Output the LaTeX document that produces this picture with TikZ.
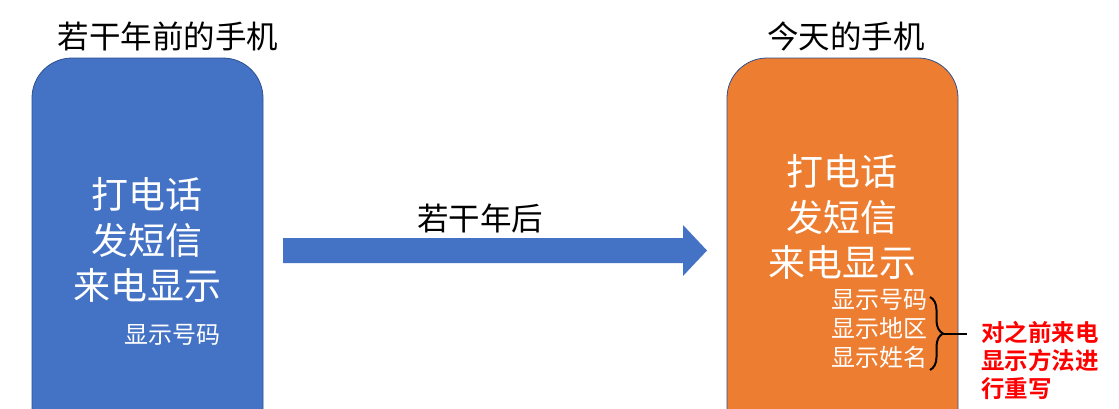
\documentclass[tikz,border=0pt]{standalone}
\usepackage{fontspec}
\newfontfamily\cjk{Noto Sans CJK SC}
\newfontfamily\cjkb{Noto Sans CJK SC Bold}
\usetikzlibrary{decorations.pathreplacing,calc}
\definecolor{pblue}{HTML}{4472C4}
\definecolor{porange}{HTML}{ED7D31}
\definecolor{pline}{HTML}{2F528F}
\definecolor{pred}{HTML}{FF0000}
\tikzset{
  phone/.style={line width=0.8pt, draw=pline, rounded corners=40pt},
  title/.style={inner sep=0pt, font=\cjk\fontsize{31.5}{31}\selectfont, text=black},
  bigtxt/.style={inner sep=0pt, align=center, text=white, font=\cjk\fontsize{37}{45.5}\selectfont},
  smalltxt/.style={inner sep=0pt, align=left, text=white, font=\cjk\fontsize{24}{29}\selectfont},
  redtxt/.style={inner sep=0pt, align=left, text=pred, font=\cjkb\fontsize{23.5}{28}\selectfont},
  bracestyle/.style={line width=2pt, black},
}
\begin{document}
\begin{tikzpicture}[x=1pt,y=1pt]
\useasboundingbox (0,0) rectangle (1119,-408);
\fill[white] (0,0) rectangle (1119,-408);
\clip (0,0) rectangle (1119,-408);
% phones
\path[phone, fill=pblue] (32,-440) -- (32,-58) -- (263,-58) -- (263,-440);
\path[phone, fill=porange] (727,-440) -- (727,-58) -- (958,-58) -- (958,-440);
% titles
\node[title] (t1) at (168,-36) {若干年前的手机};
\node[title] (t2) at (846,-36) {今天的手机};
% left phone text
\node[bigtxt] (l1) at (147,-240) {打电话\\发短信\\来电显示};
\node[smalltxt, anchor=west] (l2) at (124,-335) {显示号码};
% arrow
\fill[pblue] (283,-238) -- (683,-238) -- (683,-225) -- (707,-250.5) -- (683,-276) -- (683,-263) -- (283,-263) -- cycle;
\node[title] (al) at (480,-218) {若干年后};
% right phone text
\node[bigtxt] (r1) at (842,-217) {打电话\\发短信\\来电显示};
\node[smalltxt, anchor=west] (r2) at (831,-329) {显示号码\\显示地区\\显示姓名};
% brace
\coordinate (bt) at (930,-297);
\coordinate (bb) at (930,-370);
\coordinate (bm) at (943,-333.5);
\coordinate (be) at (967,-333.5);
\draw[bracestyle, decorate, decoration={brace, amplitude=13pt, aspect=0.5}] (bt) -- (bb);
\draw[bracestyle] (bm) -- (be);
\node[redtxt, anchor=west] (rt) at (981,-360) {对之前来电\\显示方法进\\行重写};
\end{tikzpicture}
\end{document}
